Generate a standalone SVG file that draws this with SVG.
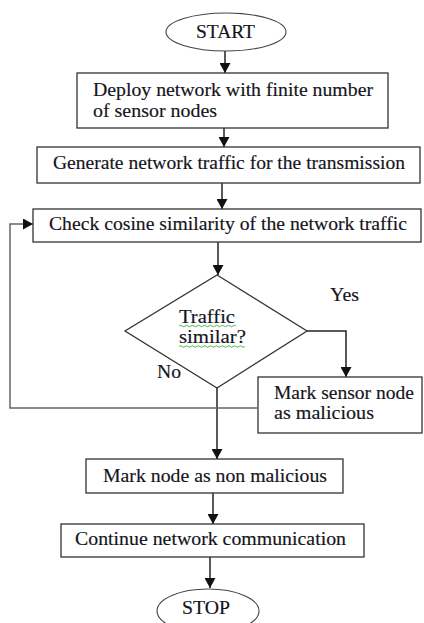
<svg xmlns="http://www.w3.org/2000/svg" width="424" height="623" viewBox="0 0 424 623">
  <defs>
    <marker id="arrow" markerUnits="userSpaceOnUse" markerWidth="10" markerHeight="11" refX="10" refY="5.5" orient="auto">
      <path d="M0,0 L10,5.5 L0,11 z" fill="#111"/>
    </marker>
    <style>
      .box { fill: #fff; stroke: #333; stroke-width: 1.3; }
      .term { fill: #fff; stroke: #444; stroke-width: 1.1; }
      .link { fill: none; stroke: #222; stroke-width: 1.5; }
      .loop { fill: none; stroke: #666; stroke-width: 1.5; }
      .lbl { font-family: "Liberation Serif", "Times New Roman", serif; font-size: 18px; fill: #141420; stroke: #141420; stroke-width: 0.15; }
      .squiggle { fill: none; stroke: #3cae3c; stroke-width: 0.9; }
    </style>
  </defs>

  <rect width="424" height="623" fill="#fff"/>

  <!-- connectors -->
  <g id="connectors">
    <line class="link" x1="225" y1="51" x2="225" y2="73" marker-end="url(#arrow)"/>
    <line class="link" x1="224" y1="128" x2="224" y2="147" marker-end="url(#arrow)"/>
    <line class="link" x1="222" y1="183" x2="222" y2="209" marker-end="url(#arrow)"/>
    <line class="link" x1="218" y1="242" x2="218" y2="275" marker-end="url(#arrow)"/>
    <polyline class="link" points="307,331 346,331 346,377" marker-end="url(#arrow)"/>
    <line class="link" x1="217" y1="388" x2="217" y2="459" marker-end="url(#arrow)"/>
    <line class="link" x1="213" y1="493" x2="213" y2="524" marker-end="url(#arrow)"/>
    <line class="link" x1="210" y1="557" x2="210" y2="588" marker-end="url(#arrow)"/>
    <polyline class="loop" points="257,408 10,408 10,224 33,224" marker-end="url(#arrow)"/>
  </g>

  <g id="start">
    <ellipse class="term" cx="226" cy="32" rx="60" ry="19"/>
    <text class="lbl" x="196" y="38" textLength="59" lengthAdjust="spacingAndGlyphs">START</text>
  </g>

  <g id="deploy">
    <rect class="box" x="77" y="73" width="311" height="55"/>
    <text class="lbl" x="93" y="96" textLength="280" lengthAdjust="spacingAndGlyphs">Deploy network with finite number</text>
    <text class="lbl" x="93" y="117" textLength="124" lengthAdjust="spacingAndGlyphs">of sensor nodes</text>
  </g>

  <g id="generate">
    <rect class="box" x="37" y="147" width="383" height="36"/>
    <text class="lbl" x="53" y="169" textLength="352" lengthAdjust="spacingAndGlyphs">Generate network traffic for the transmission</text>
  </g>

  <g id="check">
    <rect class="box" x="33" y="209" width="388" height="33"/>
    <text class="lbl" x="49" y="230" textLength="358" lengthAdjust="spacingAndGlyphs">Check cosine similarity of the network traffic</text>
  </g>

  <g id="decision">
    <polygon class="box" points="217,275 307,331 217,388 125,331"/>
    <text class="lbl" x="179" y="323" textLength="56" lengthAdjust="spacingAndGlyphs">Traffic</text>
    <text class="lbl" x="179" y="343" textLength="67" lengthAdjust="spacingAndGlyphs">similar?</text>
    <path class="squiggle" d="M179,326 q1.5,-1.5 3,0 t3,0 t3,0 t3,0 t3,0 t3,0 t3,0 t3,0 t3,0 t3,0 t3,0 t3,0 t3,0 t3,0 t3,0 t3,0 t3,0 t3,0 t3,0"/>
    <path class="squiggle" d="M179,346.5 q1.5,-1.5 3,0 t3,0 t3,0 t3,0 t3,0 t3,0 t3,0 t3,0 t3,0 t3,0 t3,0 t3,0 t3,0 t3,0 t3,0 t3,0 t3,0 t3,0 t3,0 t3,0 t3,0 t3,0"/>
    <text class="lbl" x="330" y="301" textLength="29" lengthAdjust="spacingAndGlyphs">Yes</text>
    <text class="lbl" x="157" y="378" textLength="24" lengthAdjust="spacingAndGlyphs">No</text>
  </g>

  <g id="malicious">
    <rect class="box" x="258" y="377" width="164" height="56"/>
    <text class="lbl" x="274" y="399" textLength="140" lengthAdjust="spacingAndGlyphs">Mark sensor node</text>
    <text class="lbl" x="274" y="419" textLength="100" lengthAdjust="spacingAndGlyphs">as malicious</text>
  </g>

  <g id="non-malicious">
    <rect class="box" x="86" y="459" width="257" height="34"/>
    <text class="lbl" x="103" y="482" textLength="224" lengthAdjust="spacingAndGlyphs">Mark node as non malicious</text>
  </g>

  <g id="continue">
    <rect class="box" x="61" y="524" width="303" height="33"/>
    <text class="lbl" x="75" y="545" textLength="271" lengthAdjust="spacingAndGlyphs">Continue network communication</text>
  </g>

  <g id="stop">
    <ellipse class="term" cx="208" cy="611" rx="51" ry="22"/>
    <text class="lbl" x="182" y="614" textLength="48" lengthAdjust="spacingAndGlyphs">STOP</text>
  </g>
</svg>
